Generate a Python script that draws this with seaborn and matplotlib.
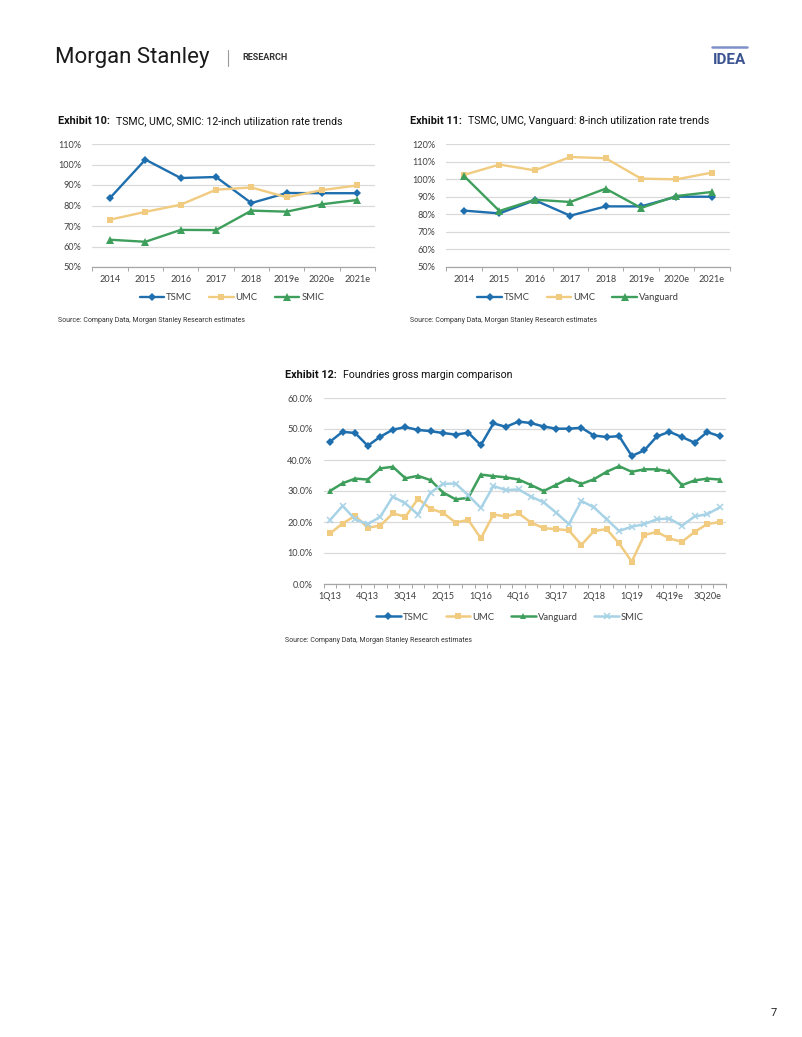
import numpy as np
import pandas as pd
import seaborn as sns
import matplotlib.pyplot as plt
from matplotlib.ticker import PercentFormatter, FixedLocator

sns.set_theme(style="white")
plt.rcParams['font.family'] = ['Lato', 'DejaVu Sans']

# ---- data ----
years = ['2014', '2015', '2016', '2017', '2018', '2019e', '2020e', '2021e']

util12_tsmc = [83.7, 102.4, 93.4, 93.9, 81.2, 86.1, 86.0, 86.0]
util12_umc = [73.1, 76.9, 80.4, 87.7, 88.8, 84.0, 87.5, 89.8]
util12_smic = [63.3, 62.3, 68.1, 68.0, 77.5, 77.0, 80.6, 82.7]

util8_tsmc = [82.1, 80.5, 88.0, 79.2, 84.5, 84.5, 90.0, 90.0]
util8_umc = [102.4, 108.3, 105.0, 112.6, 111.9, 100.3, 99.9, 103.7]
util8_vanguard = [101.8, 81.9, 88.3, 87.0, 94.6, 83.6, 90.4, 92.7]

quarters = ['1Q13', '2Q13', '3Q13', '4Q13', '1Q14', '2Q14', '3Q14', '4Q14',
            '1Q15', '2Q15', '3Q15', '4Q15', '1Q16', '2Q16', '3Q16', '4Q16',
            '1Q17', '2Q17', '3Q17', '4Q17', '1Q18', '2Q18', '3Q18', '4Q18',
            '1Q19', '2Q19', '3Q19e', '4Q19e', '1Q20e', '2Q20e', '3Q20e', '4Q20e']

gm_tsmc = [45.9, 49.1, 48.7, 44.6, 47.5, 49.8, 50.6, 49.7, 49.3, 48.7, 48.2, 48.8,
           44.8, 51.8, 50.7, 52.4, 51.9, 50.8, 50.1, 50.1, 50.4, 47.9, 47.4, 47.7,
           41.3, 43.1, 47.6, 49.1, 47.4, 45.6, 49.0, 47.7]
gm_umc = [16.3, 19.5, 22.0, 18.2, 18.8, 22.8, 21.7, 27.5, 24.3, 22.9, 19.8, 20.7,
          14.7, 22.4, 21.8, 22.8, 19.8, 18.0, 17.7, 17.3, 12.6, 17.1, 17.7, 13.1,
          7.2, 15.8, 16.8, 14.7, 13.6, 16.8, 19.3, 20.0]
gm_vanguard = [30.0, 32.5, 34.0, 33.7, 37.3, 37.8, 34.1, 34.9, 33.5, 29.5, 27.3, 27.8,
               35.3, 34.8, 34.4, 33.7, 31.9, 30.0, 32.0, 34.0, 32.3, 33.8, 36.2, 38.0,
               36.2, 37.0, 37.0, 36.3, 31.9, 33.4, 34.0, 33.7]
gm_smic = [20.6, 25.2, 20.9, 19.3, 21.7, 28.2, 26.0, 22.4, 29.5, 32.3, 32.4, 28.6,
           24.5, 31.6, 30.3, 30.5, 28.2, 26.3, 23.0, 19.3, 26.8, 24.7, 20.9, 17.1,
           18.5, 19.3, 20.9, 21.1, 18.8, 21.8, 22.5, 24.7]

BLUE = '#1F6FAE'
TAN = '#F0CB80'
GREEN = '#3E9F5C'
LBLUE = '#A8D3E6'
GRID = '#D9D9D9'
TXT = '#404040'
SANS = ['Roboto', 'DejaVu Sans']

W, H = 802, 1037
fig = plt.figure(figsize=(W / 100, H / 100), dpi=100)
fig.patch.set_facecolor('white')
renderer = fig.canvas.get_renderer()


def px_axes(x0, y0, x1, y1):
    return fig.add_axes([x0 / W, 1 - y1 / H, (x1 - x0) / W, (y1 - y0) / H])


def ftext(x, y, s, **kw):
    kw.setdefault('va', 'center')
    return fig.text(x / W, 1 - y / H, s, **kw)


def title(x, y, bold, rest):
    t = ftext(x, y, bold, fontsize=7.8, fontweight='bold', color='#111111', family=SANS)
    bb = t.get_window_extent(renderer=renderer)
    ftext(bb.x1 + 6, y, rest, fontsize=7.6, color='#111111', family=SANS)


def draw_chart(ax, labels, series, ylim, step, fmt_dec, label_every=1):
    n = len(labels)
    x = np.arange(n)
    for name, vals, color, marker, ms, lw in series:
        df = pd.DataFrame({'x': x, 'y': vals})
        if marker == 'x':
            kw = dict(markeredgewidth=1.1, markeredgecolor=color)
        else:
            kw = dict(markeredgewidth=0)
        sns.lineplot(data=df, x='x', y='y', ax=ax, color=color, marker=marker,
                     markersize=ms, linewidth=lw, label=name, **kw)
    ax.set_xlim(-0.5, n - 0.5)
    ax.set_ylim(*ylim)
    ax.set_yticks(np.arange(ylim[0], ylim[1] + 0.01, step))
    ax.yaxis.set_major_formatter(PercentFormatter(decimals=fmt_dec))
    ax.grid(axis='y', color=GRID, linewidth=0.9)
    ax.grid(axis='x', visible=False)
    ax.set_axisbelow(True)
    for s in ['top', 'right', 'left']:
        ax.spines[s].set_visible(False)
    ax.spines['bottom'].set_color('#A6A6A6')
    ax.spines['bottom'].set_linewidth(0.9)
    ax.set_xticks(x[::label_every])
    ax.set_xticklabels(labels[::label_every])
    ax.xaxis.set_minor_locator(FixedLocator(np.arange(-0.5, n, 1.0)))
    ax.tick_params(axis='x', which='major', length=0, pad=6, labelsize=6.6,
                   labelcolor=TXT)
    ax.tick_params(axis='x', which='minor', bottom=True, length=3, width=0.7,
                   color='#A6A6A6')
    ax.tick_params(axis='y', length=0, pad=8, labelsize=6.6, labelcolor=TXT)
    ax.set_xlabel('')
    ax.set_ylabel('')
    h, l = ax.get_legend_handles_labels()
    ax.get_legend().remove()
    return h, l


def legend(h, l, cx, cy):
    fig.legend(h, l, loc='center', bbox_to_anchor=(cx / W, 1 - cy / H), ncol=len(l),
               frameon=False, fontsize=6.8, handlelength=2.6, handletextpad=0.2,
               columnspacing=1.8, labelcolor=TXT)


def source(x, y):
    ftext(x, y, 'Source: Company Data, Morgan Stanley Research estimates',
          fontsize=5.0, color='#333333', family=SANS)


# ---- header ----
ftext(55, 58, 'Morgan Stanley', fontsize=16, color='#1a1a1a', family=SANS)
fig.add_artist(plt.Line2D([228 / W, 228 / W], [1 - 50 / H, 1 - 66 / H],
                          color='#9a9a9a', linewidth=0.8))
ftext(242, 58, 'RESEARCH', fontsize=6.5, fontweight='bold', color='#333333', family=SANS)
fig.add_artist(plt.Line2D([712 / W, 747 / W], [1 - 47 / H, 1 - 47 / H],
                          color='#7F8FCA', linewidth=1.8))
ftext(729.5, 60, 'IDEA', fontsize=11, fontweight='bold', color='#3B5390', ha='center',
      family=SANS)

# ---- Exhibit 10 ----
title(58, 121, 'Exhibit 10:', 'TSMC, UMC, SMIC: 12-inch utilization rate trends')
ax10 = px_axes(92.4, 144, 375, 267)
h, l = draw_chart(ax10, years, [
    ('TSMC', util12_tsmc, BLUE, 'D', 4.2, 1.7),
    ('UMC', util12_umc, TAN, 's', 4.8, 1.7),
    ('SMIC', util12_smic, GREEN, '^', 5.2, 1.7),
], (50, 110), 10, 0)
legend(h, l, 232, 298)
source(58, 321)

# ---- Exhibit 11 ----
title(410, 121, 'Exhibit 11:', 'TSMC, UMC, Vanguard: 8-inch utilization rate trends')
ax11 = px_axes(446.3, 144, 729.6, 267)
h, l = draw_chart(ax11, years, [
    ('TSMC', util8_tsmc, BLUE, 'D', 4.2, 1.7),
    ('UMC', util8_umc, TAN, 's', 4.8, 1.7),
    ('Vanguard', util8_vanguard, GREEN, '^', 5.2, 1.7),
], (50, 120), 10, 0)
legend(h, l, 578, 298)
source(410, 321)

# ---- Exhibit 12 ----
title(285, 375, 'Exhibit 12:', 'Foundries gross margin comparison')
ax12 = px_axes(323.7, 398, 726, 584)
h, l = draw_chart(ax12, quarters, [
    ('TSMC', gm_tsmc, BLUE, 'D', 4.2, 1.8),
    ('UMC', gm_umc, TAN, 's', 4.8, 1.8),
    ('Vanguard', gm_vanguard, GREEN, '^', 5.0, 1.8),
    ('SMIC', gm_smic, LBLUE, 'x', 4.5, 1.8),
], (0, 60), 10, 1, label_every=3)
legend(h, l, 510, 617)
source(285, 640)

# ---- page number ----
ftext(771, 1013, '7', fontsize=8, color='#222222', family=SANS)

fig.savefig('out.png', dpi=100, facecolor='white')
